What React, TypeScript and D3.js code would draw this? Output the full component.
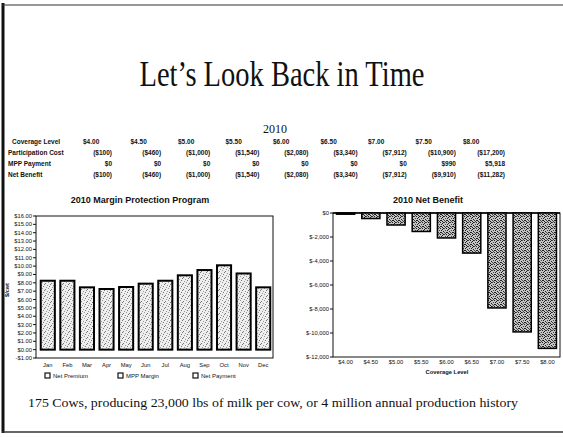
import React from 'react';
import * as d3 from 'd3';

const coverageLevels = ['$4.00', '$4.50', '$5.00', '$5.50', '$6.00', '$6.50', '$7.00', '$7.50', '$8.00'];
const participationCost = [-100, -460, -1000, -1540, -2080, -3340, -7912, -10900, -17200];
const mppPayment = [0, 0, 0, 0, 0, 0, 0, 990, 5918];
const netBenefit = [-100, -460, -1000, -1540, -2080, -3340, -7912, -9910, -11282];
const rowLabels = ['Participation Cost', 'MPP Payment', 'Net Benefit'];

const months = ['Jan', 'Feb', 'Mar', 'Apr', 'May', 'Jun', 'Jul', 'Aug', 'Sep', 'Oct', 'Nov', 'Dec'];
const mppMargin = [8.25, 8.25, 7.46, 7.26, 7.5, 7.9, 8.25, 8.9, 9.53, 10.1, 9.12, 7.46];
const leftTicks = [16, 15, 14, 13, 12, 11, 10, 9, 8, 7, 6, 5, 4, 3, 2, 1, 0, -1];
const rightTicks = [0, -2000, -4000, -6000, -8000, -10000, -12000];
const legendItems = ['Net Premium', 'MPP Margin', 'Net Payment'];

const fmtTable = (v: number) => {
  const s = '$' + d3.format(',')(Math.abs(v));
  return v < 0 ? '(' + s + ')' : s;
};
const fmtLeft = (v: number) => (v < 0 ? '-$' : '$') + Math.abs(v).toFixed(2);
const fmtRight = (v: number) => (v < 0 ? '$-' : '$') + d3.format(',')(Math.abs(v));

const SANS = 'Liberation Sans, Arial, sans-serif';
const SERIF = 'Liberation Serif, Times New Roman, serif';

// stipple dot offsets inside a 6x6 pattern tile (pattern texture, not data)
const lightDots = [[0, 0], [3, 1], [5, 3], [1, 4], [4, 5], [2, 2]];
const darkDots = [[0, 0], [2, 0], [4, 1], [1, 2], [3, 2], [5, 3], [0, 4], [2, 4], [4, 5], [1, 5], [3, 4], [5, 0]];

export default function App() {
  // Left chart
  const lx0 = 36, lx1 = 273, ly0 = 216, ly1 = 358;
  const xL = d3.scaleBand<string>().domain(months).range([lx0 + 2, lx1]).paddingInner(0.28).paddingOuter(0.14);
  const yL = d3.scaleLinear().domain([-1, 16]).range([ly1, ly0]);

  // Right chart
  const rx0 = 333, rx1 = 560, ry0 = 213, ry1 = 357;
  const xR = d3.scaleBand<string>().domain(coverageLevels).range([rx0, rx1]).paddingInner(0.28).paddingOuter(0.14);
  const yR = d3.scaleLinear().domain([-12000, 0]).range([ry1, ry0]);

  // Table columns
  const colHeadX = d3.scaleLinear().domain([0, 8]).range([83, 463]);
  const colValX = d3.scaleLinear().domain([0, 8]).range([112, 505]);
  const rowY = d3.scaleLinear().domain([0, 3]).range([144, 177]);
  const rowData = [participationCost, mppPayment, netBenefit];

  return (
    <svg width={563} height={437} style={{ position: 'absolute', left: 0, top: 0, background: '#fff' }}>
      <defs>
        <pattern id="light" width={6} height={6} patternUnits="userSpaceOnUse">
          <rect width={6} height={6} fill="#eeeeee" />
          {lightDots.map(([x, y], i) => (
            <rect key={i} x={x} y={y} width={1} height={1} fill={i % 2 ? '#777' : '#999'} />
          ))}
        </pattern>
        <pattern id="dark" width={6} height={6} patternUnits="userSpaceOnUse">
          <rect width={6} height={6} fill="#c4c4c4" />
          {darkDots.map(([x, y], i) => (
            <rect key={i} x={x} y={y} width={1} height={1} fill={i % 3 === 0 ? '#444' : '#1e1e1e'} />
          ))}
        </pattern>
      </defs>

      {/* slide border */}
      <line x1={3} y1={3} x2={3} y2={433} stroke="#111" strokeWidth={3} />
      <line x1={2} y1={5} x2={563} y2={5} stroke="#333" strokeWidth={1.2} />
      <line x1={2} y1={432} x2={563} y2={432} stroke="#333" strokeWidth={1.5} />

      {/* title */}
      <text x={282} y={86} textAnchor="middle" fontFamily={SERIF} fontSize={36} textLength={285} lengthAdjust="spacingAndGlyphs" fill="#111">
        Let’s Look Back in Time
      </text>
      <text x={275} y={133} textAnchor="middle" fontFamily={SERIF} fontSize={12} fill="#111">2010</text>

      {/* table */}
      <g fontFamily={SANS} fontSize={6.5} fontWeight="bold" fill="#111">
        <text x={12} y={rowY(0)}>Coverage Level</text>
        {coverageLevels.map((c, i) => (
          <text key={c} x={colHeadX(i)} y={rowY(0)}>{c}</text>
        ))}
        {rowLabels.map((r, ri) => (
          <g key={r}>
            <text x={8} y={rowY(ri + 1)}>{r}</text>
            {rowData[ri].map((v, i) => (
              <text key={i} x={colValX(i)} y={rowY(ri + 1)} textAnchor="end">{fmtTable(v)}</text>
            ))}
          </g>
        ))}
      </g>

      {/* Left chart */}
      <text x={140} y={203} textAnchor="middle" fontFamily={SANS} fontSize={9} fontWeight="bold" fill="#111">2010 Margin Protection Program</text>
      <rect x={lx0} y={ly0} width={lx1 - lx0} height={ly1 - ly0} fill="none" stroke="#111" strokeWidth={1} />
      <g fontFamily={SANS} fontSize={5.8} fill="#111">
        {leftTicks.map((t) => (
          <g key={t}>
            <line x1={lx0 - 3} x2={lx0} y1={yL(t)} y2={yL(t)} stroke="#111" />
            <text x={lx0 - 4} y={yL(t) + 2} textAnchor="end">{fmtLeft(t)}</text>
          </g>
        ))}
        {months.map((m) => (
          <text key={m} x={xL(m)! + xL.bandwidth() / 2} y={367} textAnchor="middle">{m}</text>
        ))}
      </g>
      <text transform={`translate(9,290) rotate(-90)`} textAnchor="middle" fontFamily={SANS} fontSize={5.5} fontWeight="bold" fill="#111">$/cwt</text>
      {months.map((m, i) => (
        <rect key={m} x={xL(m)!} y={yL(mppMargin[i])} width={xL.bandwidth()} height={yL(0) - yL(mppMargin[i])}
          fill="url(#light)" stroke="#000" strokeWidth={2} />
      ))}
      <g fontFamily={SANS} fontSize={6} fill="#111">
        {legendItems.map((l, i) => {
          const lx = [45, 118, 193][i];
          return (
            <g key={l}>
              <rect x={lx} y={373} width={5} height={5} fill="#fff" stroke="#111" strokeWidth={1.2} />
              <text x={lx + 8} y={378}>{l}</text>
            </g>
          );
        })}
      </g>

      {/* Right chart */}
      <text x={428} y={203} textAnchor="middle" fontFamily={SANS} fontSize={9} fontWeight="bold" fill="#111">2010 Net Benefit</text>
      <rect x={rx0} y={ry0} width={rx1 - rx0} height={ry1 - ry0} fill="none" stroke="#111" strokeWidth={1} />
      <line x1={rx0} x2={rx1} y1={ry0} y2={ry0} stroke="#000" strokeWidth={1.5} />
      <g fontFamily={SANS} fontSize={5.8} fill="#111">
        {rightTicks.map((t) => (
          <g key={t}>
            <line x1={rx0 - 3} x2={rx0} y1={yR(t)} y2={yR(t)} stroke="#111" />
            <text x={rx0 - 4} y={yR(t) + 2} textAnchor="end">{fmtRight(t)}</text>
          </g>
        ))}
        {coverageLevels.map((c) => (
          <text key={c} x={xR(c)! + xR.bandwidth() / 2} y={364} textAnchor="middle">{c}</text>
        ))}
      </g>
      <text x={447} y={374} textAnchor="middle" fontFamily={SANS} fontSize={5.8} fontWeight="bold" fill="#111">Coverage Level</text>
      {coverageLevels.map((c, i) => (
        <rect key={c} x={xR(c)!} y={yR(0)} width={xR.bandwidth()} height={yR(netBenefit[i]) - yR(0)}
          fill="url(#dark)" stroke="#000" strokeWidth={1.5} />
      ))}

      {/* footer */}
      <text x={28} y={407} fontFamily={SERIF} fontSize={13} textLength={490} lengthAdjust="spacingAndGlyphs" fill="#111">
        175 Cows, producing 23,000 lbs of milk per cow, or 4 million annual production history
      </text>
    </svg>
  );
}
